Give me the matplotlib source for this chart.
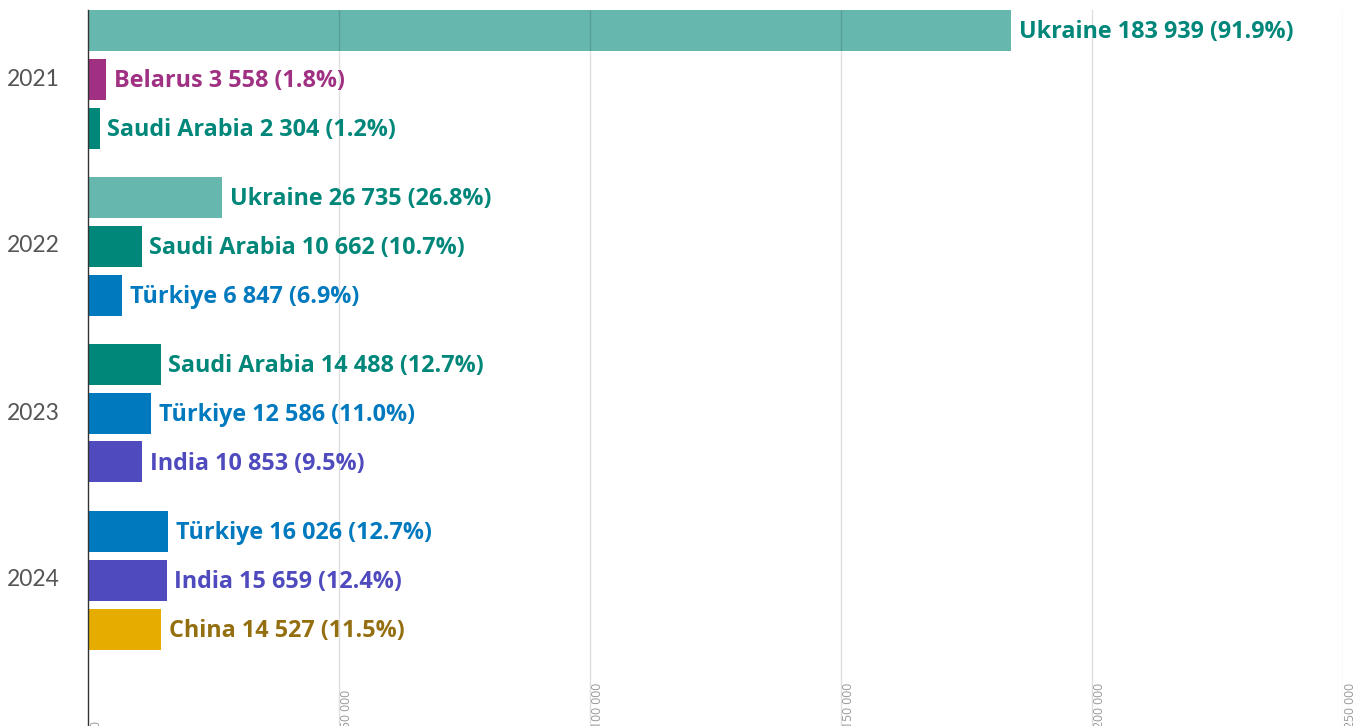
import matplotlib
matplotlib.use("Agg")
import matplotlib.pyplot as plt
from matplotlib.transforms import blended_transform_factory

years = ["2021", "2022", "2023", "2024"]
countries = [
    ["Ukraine", "Belarus", "Saudi Arabia"],
    ["Ukraine", "Saudi Arabia", "Türkiye"],
    ["Saudi Arabia", "Türkiye", "India"],
    ["Türkiye", "India", "China"],
]
values = [
    [183939, 3558, 2304],
    [26735, 10662, 6847],
    [14488, 12586, 10853],
    [16026, 15659, 14527],
]
shares = [
    [91.9, 1.8, 1.2],
    [26.8, 10.7, 6.9],
    [12.7, 11.0, 9.5],
    [12.7, 12.4, 11.5],
]
xticks = [0, 50000, 100000, 150000, 200000, 250000]

bar_colors = {
    "Ukraine": "#66b7ae",
    "Belarus": "#a03082",
    "Saudi Arabia": "#00877a",
    "Türkiye": "#0079bf",
    "India": "#4f4bbe",
    "China": "#e6ac00",
}
text_colors = {
    "Ukraine": "#00877a",
    "Belarus": "#a03082",
    "Saudi Arabia": "#00877a",
    "Türkiye": "#0079bf",
    "India": "#4f4bbe",
    "China": "#946f10",
}

def fmt(v):
    return f"{v:,}".replace(",", " ")

W, H = 1367, 726
fig = plt.figure(figsize=(W / 100, H / 100), dpi=100)
left, right, top = 88, 1343, 10
ax = fig.add_axes([left / W, 0, (right - left) / W, (H - top) / H])

step = 49.0
gap_group = 167.0 / step
bar_h = 41.0 / step

for g, yr in enumerate(years):
    for i in range(3):
        pos = g * gap_group + i
        c = countries[g][i]
        v = values[g][i]
        ax.barh(pos, v, height=bar_h, color=bar_colors[c], zorder=2)
        ax.annotate(f"{c} {fmt(v)} ({shares[g][i]:.1f}%)", xy=(v, pos),
                    xytext=(5.5, -1.5), textcoords="offset points",
                    ha="left", va="center", fontsize=16.8, fontweight="bold",
                    family="Open Sans", color=text_colors[c], zorder=4)
    ax.text(-28 / (right - left), g * gap_group + 1, yr,
            transform=blended_transform_factory(ax.transAxes, ax.transData),
            ha="right", va="center", fontsize=16.5, color="#555555", family="Lato")

ax.set_xlim(0, 250000)
ax.set_ylim((H - 30) / step, -20 / step)

for xv in xticks[1:]:
    ax.axvline(xv, color="black", alpha=0.13, lw=1, zorder=3)

tr = blended_transform_factory(ax.transData, ax.transAxes)
for xv in xticks:
    ax.annotate(fmt(xv), xy=(xv, 0), xycoords=tr, xytext=(1, -1.5),
                textcoords="offset points", rotation=90, ha="left", va="bottom",
                fontsize=8.8, color="#999999", family="Open Sans")

ax.set_xticks([])
ax.set_yticks([])
for s in ["top", "right", "bottom"]:
    ax.spines[s].set_visible(False)
ax.spines["left"].set_color("#333333")
ax.spines["left"].set_linewidth(1)

fig.savefig("out.png", dpi=100)
